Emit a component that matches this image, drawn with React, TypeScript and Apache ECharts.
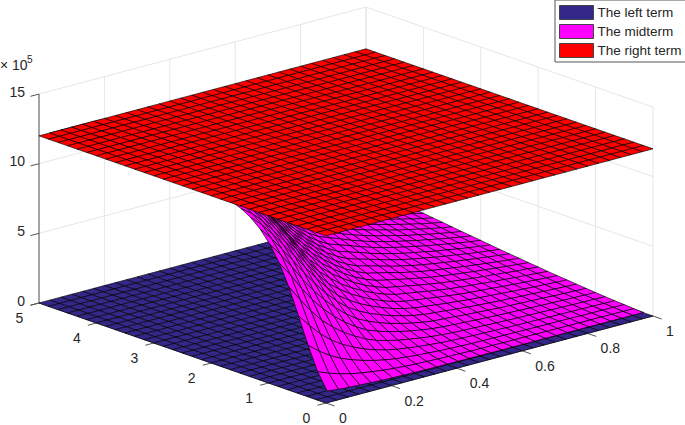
import React, { useEffect, useRef } from "react";
import * as echarts from "echarts";

const xNodes = [0,0.033,0.067,0.1,0.133,0.167,0.2,0.233,0.267,0.3,0.333,0.367,0.4,0.433,0.467,0.5,0.533,0.567,0.6,0.633,0.667,0.7,0.733,0.767,0.8,0.833,0.867,0.9,0.933,0.967,1];
const yNodes = [0,0.167,0.333,0.5,0.667,0.833,1,1.167,1.333,1.5,1.667,1.833,2,2.167,2.333,2.5,2.667,2.833,3,3.167,3.333,3.5,3.667,3.833,4,4.167,4.333,4.5,4.667,4.833,5];
const leftLevel = 0;
const rightLevel = 12;
const xTicks = [0,0.2,0.4,0.6,0.8,1];
const xTickLabels = ["0","0.2","0.4","0.6","0.8","1"];
const yTicks = [0,1,2,3,4,5];
const zTicks = [0,5,10,15];
// Midterm in units of 10^5: one row per y node from y = 0.167, one column per x node from x = 0.033.
const midRows = [
[0.42,0.33,0.27,0.22,0.18,0.14,0.12,0.10,0.08,0.07,0.06,0.06,0.05,0.05,0.04,0.04,0.03,0.03,0.03,0.03,0.03,0.03,0.03,0.03,0.03,0.02,0.02,0.02,0.02,0.02],
[1.56,1.24,0.99,0.79,0.64,0.52,0.42,0.34,0.28,0.24,0.21,0.18,0.16,0.14,0.12,0.11,0.11,0.10,0.10,0.10,0.09,0.09,0.08,0.08,0.07,0.07,0.07,0.06,0.06,0.05],
[3.22,2.58,2.07,1.66,1.34,1.09,0.88,0.71,0.58,0.50,0.42,0.37,0.32,0.28,0.25,0.22,0.21,0.20,0.19,0.18,0.17,0.16,0.15,0.15,0.14,0.13,0.12,0.12,0.11,0.10],
[5.09,4.17,3.38,2.73,2.21,1.81,1.47,1.19,0.97,0.82,0.70,0.60,0.52,0.45,0.40,0.36,0.34,0.32,0.29,0.27,0.25,0.24,0.23,0.21,0.20,0.19,0.18,0.16,0.15,0.14],
[6.91,5.80,4.79,3.92,3.21,2.63,2.15,1.74,1.42,1.21,1.02,0.88,0.76,0.65,0.58,0.52,0.48,0.45,0.42,0.39,0.36,0.34,0.32,0.30,0.28,0.26,0.24,0.22,0.21,0.19],
[8.39,7.33,6.19,5.16,4.27,3.54,2.91,2.37,1.93,1.64,1.39,1.20,1.03,0.89,0.78,0.70,0.65,0.61,0.56,0.52,0.48,0.45,0.42,0.39,0.36,0.34,0.31,0.29,0.27,0.25],
[9.51,8.53,7.49,6.37,5.35,4.48,3.72,3.04,2.49,2.12,1.79,1.54,1.33,1.14,1.00,0.89,0.83,0.78,0.71,0.66,0.61,0.56,0.53,0.49,0.46,0.43,0.39,0.36,0.33,0.31],
[10.35,9.48,8.50,7.48,6.39,5.41,4.53,3.73,3.08,2.62,2.22,1.92,1.65,1.42,1.24,1.11,1.03,0.96,0.88,0.81,0.74,0.69,0.64,0.60,0.55,0.52,0.48,0.44,0.40,0.37],
[10.95,10.23,9.34,8.37,7.36,6.32,5.36,4.45,3.69,3.16,2.68,2.31,1.99,1.71,1.50,1.34,1.24,1.15,1.05,0.97,0.89,0.83,0.77,0.72,0.66,0.61,0.56,0.52,0.47,0.44],
[11.36,10.79,10.02,9.12,8.17,7.18,6.15,5.16,4.31,3.70,3.15,2.73,2.35,2.02,1.77,1.58,1.46,1.36,1.24,1.14,1.04,0.97,0.90,0.84,0.77,0.71,0.65,0.60,0.55,0.50],
[11.62,11.20,10.56,9.76,8.85,7.92,6.91,5.86,4.93,4.26,3.63,3.15,2.72,2.35,2.06,1.83,1.69,1.57,1.43,1.31,1.20,1.11,1.03,0.96,0.88,0.82,0.75,0.69,0.63,0.57],
[11.78,11.48,10.98,10.28,9.45,8.55,7.62,6.53,5.55,4.81,4.13,3.59,3.10,2.68,2.35,2.09,1.93,1.79,1.63,1.50,1.37,1.27,1.17,1.09,1.00,0.93,0.85,0.77,0.71,0.65],
[11.88,11.67,11.29,10.70,9.96,9.11,8.20,7.17,6.15,5.36,4.62,4.03,3.49,3.02,2.65,2.36,2.18,2.02,1.84,1.69,1.54,1.43,1.32,1.22,1.12,1.04,0.95,0.87,0.79,0.72],
[11.94,11.80,11.51,11.03,10.38,9.60,8.72,7.75,6.72,5.90,5.11,4.47,3.89,3.37,2.96,2.64,2.44,2.26,2.05,1.88,1.72,1.59,1.47,1.36,1.24,1.15,1.05,0.96,0.87,0.80],
[11.97,11.88,11.67,11.29,10.73,10.02,9.19,8.24,7.27,6.42,5.59,4.91,4.28,3.72,3.27,2.92,2.70,2.50,2.27,2.08,1.90,1.76,1.62,1.50,1.37,1.27,1.16,1.06,0.96,0.87],
[11.98,11.93,11.79,11.49,11.02,10.39,9.61,8.69,7.77,6.92,6.06,5.35,4.68,4.07,3.59,3.20,2.96,2.74,2.50,2.28,2.09,1.93,1.78,1.64,1.50,1.39,1.26,1.15,1.05,0.95],
[11.99,11.96,11.86,11.64,11.25,10.70,9.98,9.10,8.19,7.40,6.52,5.77,5.07,4.42,3.91,3.49,3.23,2.99,2.72,2.49,2.28,2.10,1.94,1.79,1.63,1.51,1.37,1.25,1.14,1.03],
[12.00,11.98,11.91,11.75,11.43,10.95,10.31,9.48,8.59,7.82,6.96,6.19,5.45,4.78,4.23,3.78,3.50,3.24,2.95,2.70,2.47,2.28,2.10,1.94,1.77,1.63,1.49,1.35,1.23,1.12],
[12.00,11.99,11.95,11.82,11.57,11.17,10.59,9.81,8.96,8.20,7.38,6.60,5.84,5.13,4.55,4.07,3.77,3.49,3.18,2.91,2.66,2.45,2.26,2.09,1.91,1.76,1.60,1.46,1.32,1.20],
[12.00,11.99,11.97,11.88,11.68,11.34,10.83,10.11,9.29,8.55,7.76,6.99,6.21,5.47,4.86,4.36,4.04,3.75,3.41,3.12,2.86,2.63,2.43,2.24,2.04,1.88,1.71,1.56,1.41,1.28],
[12.00,12.00,11.98,11.92,11.77,11.48,11.03,10.38,9.60,8.88,8.10,7.37,6.57,5.81,5.18,4.65,4.31,4.00,3.65,3.34,3.05,2.82,2.60,2.40,2.18,2.01,1.83,1.67,1.51,1.37],
[12.00,12.00,11.99,11.95,11.83,11.60,11.21,10.61,9.88,9.19,8.41,7.71,6.92,6.14,5.49,4.94,4.58,4.25,3.88,3.56,3.25,3.00,2.77,2.55,2.33,2.14,1.95,1.77,1.60,1.46],
[12.00,12.00,11.99,11.96,11.88,11.69,11.36,10.82,10.14,9.47,8.71,8.01,7.26,6.46,5.79,5.22,4.85,4.50,4.11,3.77,3.45,3.18,2.94,2.71,2.47,2.27,2.07,1.88,1.70,1.54],
[12.00,12.00,12.00,11.98,11.91,11.76,11.48,11.00,10.37,9.73,8.99,8.30,7.59,6.78,6.09,5.50,5.11,4.76,4.35,3.99,3.65,3.37,3.11,2.87,2.61,2.41,2.19,1.99,1.80,1.63],
[12.00,12.00,12.00,11.99,11.94,11.82,11.58,11.16,10.57,9.97,9.26,8.58,7.86,7.09,6.38,5.78,5.38,5.00,4.58,4.20,3.85,3.55,3.28,3.02,2.76,2.54,2.31,2.10,1.90,1.72],
[12.00,12.00,12.00,11.99,11.96,11.86,11.66,11.29,10.76,10.19,9.50,8.83,8.12,7.38,6.67,6.05,5.64,5.25,4.81,4.42,4.05,3.74,3.45,3.18,2.90,2.67,2.43,2.21,1.99,1.81],
[12.00,12.00,12.00,11.99,11.97,11.90,11.73,11.41,10.92,10.39,9.73,9.08,8.38,7.66,6.95,6.32,5.89,5.49,5.04,4.63,4.25,3.92,3.62,3.34,3.05,2.81,2.55,2.32,2.09,1.90],
[12.00,12.00,12.00,12.00,11.98,11.92,11.79,11.51,11.07,10.57,9.94,9.31,8.62,7.90,7.22,6.58,6.14,5.73,5.26,4.84,4.45,4.11,3.79,3.50,3.19,2.94,2.67,2.43,2.19,1.99],
[12.00,12.00,12.00,12.00,11.99,11.94,11.83,11.59,11.19,10.73,10.14,9.52,8.85,8.14,7.48,6.84,6.39,5.97,5.49,5.05,4.64,4.29,3.96,3.66,3.34,3.08,2.79,2.54,2.29,2.08],
[12.00,12.00,12.00,12.00,11.99,11.96,11.87,11.66,11.31,10.88,10.32,9.73,9.06,8.36,7.72,7.08,6.63,6.20,5.71,5.26,4.84,4.47,4.13,3.82,3.49,3.21,2.92,2.65,2.40,2.17],
];

const project = (x:number,y:number,z:number) => [326+327*x-57.4*y, 403-87*x-20*y-13.93*z];
const N = xNodes.length-1;
const cellOrder:number[][] = [];
for (let i=N-1;i>=0;i--) for (let j=N-1;j>=0;j--) cellOrder.push([i,j]);
const midCells = cellOrder.filter(c=>c[0]>=1&&c[1]>=1);

function surface(name:string,color:string,cells:number[][],zAt:(i:number,j:number)=>number){
  return {
    type:"custom",name,coordinateSystem:"cartesian2d",silent:true,clip:false,
    itemStyle:{color},
    data:cells,
    renderItem:(_p:any,api:any)=>{
      const i=api.value(0),j=api.value(1);
      const pts=[[i,j],[i+1,j],[i+1,j+1],[i,j+1]].map(([a,b])=>api.coord(project(xNodes[a],yNodes[b],zAt(a,b))));
      return {type:"polygon",shape:{points:pts},style:{fill:color,stroke:"#000",lineWidth:0.65}};
    }
  };
}
function segments(name:string,segs:number[][],stroke:string,lineWidth:number){
  return {
    type:"custom",name,coordinateSystem:"cartesian2d",silent:true,clip:false,
    data:segs.map((s,k)=>[k,0]),
    renderItem:(_p:any,api:any)=>{
      const s=segs[api.value(0)];
      const a=api.coord(project(s[0],s[1],s[2]));
      const b=api.coord(project(s[3],s[4],s[5]));
      return {type:"line",shape:{x1:a[0],y1:a[1],x2:b[0],y2:b[1]},style:{stroke,lineWidth}};
    }
  };
}
function labels(name:string,items:{x:number,y:number,z:number,text:string}[],dx:number,dy:number,align:string){
  return {
    type:"custom",name,coordinateSystem:"cartesian2d",silent:true,clip:false,
    data:items.map((s,k)=>[k,0]),
    renderItem:(_p:any,api:any)=>{
      const s=items[api.value(0)];
      const a=api.coord(project(s.x,s.y,s.z));
      return {type:"text",x:a[0]+dx,y:a[1]+dy,style:{text:s.text,fill:"#262626",fontSize:14,fontFamily:"Liberation Sans",align,verticalAlign:"middle"}};
    }
  };
}
const wall:number[][]=[];
xTicks.forEach(x=>wall.push([x,5,0,x,5,15]));
yTicks.forEach(y=>wall.push([1,y,0,1,y,15]));
zTicks.forEach(z=>{wall.push([0,5,z,1,5,z]);wall.push([1,5,z,1,0,z]);});
const axisSegs:number[][]=[[0,5,0,0,5,15],[0,5,0,0,0,0],[0,0,0,1,0,0]];
const tickSegs:number[][]=[];
xTicks.forEach(x=>tickSegs.push([x,0,0,x,-0.15,0]));
yTicks.forEach(y=>tickSegs.push([0,y,0,-0.026,y,0]));
zTicks.forEach(z=>tickSegs.push([0,5,z,-0.026,5,z]));

export default function App(){
  const ref=useRef<HTMLDivElement>(null);
  useEffect(()=>{
    document.body.style.margin="0";
    const chart=echarts.init(ref.current!,undefined,{renderer:"svg"});
    chart.setOption({
      animation:false,
      backgroundColor:"#fff",
      grid:{left:0,right:0,top:0,bottom:0},
      xAxis:{type:"value",min:0,max:685,show:false},
      yAxis:{type:"value",min:0,max:425,inverse:true,show:false},
      legend:{
        left:555,top:0,orient:"vertical",align:"left",icon:"rect",selectedMode:false,
        itemWidth:34,itemHeight:14,itemGap:4,padding:[5,5,4,4],
        backgroundColor:"#fff",borderColor:"#555",borderWidth:1,
        textStyle:{fontFamily:"Liberation Sans",fontSize:13.5,color:"#262626",padding:[0,0,0,-1]},
        data:[
          {name:"The left term",itemStyle:{color:"#33288a",borderColor:"#444",borderWidth:1}},
          {name:"The midterm",itemStyle:{color:"#ff00ff",borderColor:"#444",borderWidth:1}},
          {name:"The right term",itemStyle:{color:"#ff0000",borderColor:"#444",borderWidth:1}},
        ],
      },
      series:[
        segments("walls",wall,"#e6e6e6",1),
        segments("axes",axisSegs,"#555",1),
        segments("ticks",tickSegs,"#555",1),
        surface("The left term","#33288a",cellOrder,()=>leftLevel),
        surface("The midterm","#ff00ff",midCells,(i,j)=>midRows[j-1][i-1]),
        surface("The right term","#ff0000",cellOrder,()=>rightLevel),
        labels("xl",xTicks.map((x,k)=>({x,y:0,z:0,text:xTickLabels[k]})),13,15,"left"),
        labels("yl",yTicks.map(y=>({x:0,y,z:0,text:String(y)})),-15.6,15,"right"),
        labels("zl",zTicks.map(z=>({x:0,y:5,z,text:String(z)})),-14,-2.5,"right"),
      ],
      graphic:[
        {type:"text",x:0,y:65,style:{text:"×",fill:"#262626",fontSize:14,fontFamily:"Liberation Sans",verticalAlign:"middle",align:"left"}},
        {type:"text",x:12,y:65,style:{text:"10",fill:"#262626",fontSize:14,fontFamily:"Liberation Sans",verticalAlign:"middle",align:"left"}},
        {type:"text",x:27,y:59,style:{text:"5",fill:"#262626",fontSize:10,fontFamily:"Liberation Sans",verticalAlign:"middle",align:"left"}},
      ],
    });
    return ()=>chart.dispose();
  },[]);
  return <div ref={ref} style={{width:685,height:425}}/>;
}
